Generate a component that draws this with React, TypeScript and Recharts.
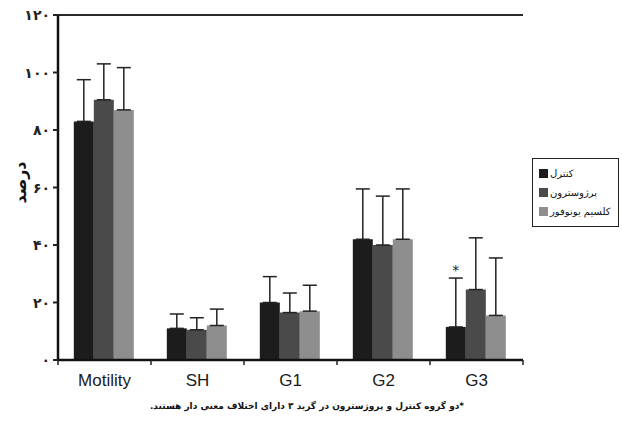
import { BarChart, Bar, XAxis, YAxis, CartesianGrid, ErrorBar, LabelList } from 'recharts';

const categories = ['Motility', 'SH', 'G1', 'G2', 'G3'];
const controlValues = [83, 11, 20, 42, 11.5];
const progesteroneValues = [90.5, 10.5, 16.5, 40, 24.5];
const calciumValues = [87, 12, 17, 42, 15.5];
const controlErr = [14.5, 5, 9, 17.5, 17];
const progesteroneErr = [12.5, 4.2, 6.8, 17, 18];
const calciumErr = [14.7, 5.7, 9, 17.5, 20];
const yTicks = [0, 20, 40, 60, 80, 100, 120];
const yTickLabels = ['۰', '۲۰', '۴۰', '۶۰', '۸۰', '۱۰۰', '۱۲۰'];
const seriesNames = ['کنترل', 'پرژوسترون', 'کلسیم یونوفور'];
const seriesColors = ['#1c1c1c', '#4a4a4a', '#8e8e8e'];
const significantIndex = 4;
const footnote = '*دو گروه کنترل و پروژسترون در گرید ۳ دارای اختلاف معنی دار هستند.';

const data = categories.map((name, i) => ({
  name,
  control: controlValues[i],
  progesterone: progesteroneValues[i],
  calcium: calciumValues[i],
  controlErr: [0, controlErr[i]],
  progesteroneErr: [0, progesteroneErr[i]],
  calciumErr: [0, calciumErr[i]],
}));

const PLOT_WIDTH = 465;
const step = PLOT_WIDTH / categories.length;

const XTick = (props: any) => {
  const { x, y, payload } = props;
  return (
    <g>
      <line x1={x + step / 2} x2={x + step / 2} y1={y - 8} y2={y - 3} stroke="#222" strokeWidth={1.5} />
      {payload.index === 0 && (
        <line x1={x - step / 2} x2={x - step / 2} y1={y - 8} y2={y - 3} stroke="#222" strokeWidth={1.5} />
      )}
      <text x={x} y={y + 18} textAnchor="middle" fontFamily="Liberation Sans, Arial" fontSize={17} fill="#1a1a1a">
        {payload.value}
      </text>
    </g>
  );
};

const YTick = (props: any) => {
  const { x, y, payload } = props;
  const idx = yTicks.indexOf(payload.value);
  return (
    <text x={x - 1} y={y + 5} textAnchor="end" fontFamily="DejaVu Sans" fontWeight="bold" fontSize={14} fill="#222">
      {yTickLabels[idx]}
    </text>
  );
};

const Star = (props: any) => {
  const { x, y, width, height, index, value } = props;
  if (index !== significantIndex || !value) return null;
  const errTop = y - (controlErr[index] * height) / value;
  return (
    <text x={x + width / 2} y={errTop - 3} textAnchor="middle" fontFamily="DejaVu Sans" fontSize={14} fill="#222">
      *
    </text>
  );
};

export default function App() {
  return (
    <div style={{ position: 'absolute', left: 0, top: 0, width: 622, height: 425, background: '#fff' }}>
      <BarChart
        width={622}
        height={425}
        data={data}
        margin={{ top: 15, right: 99, left: 18, bottom: 35 }}
        barGap={0}
        barCategoryGap="17%"
      >
        <CartesianGrid vertical={false} stroke="#2a2a2a" strokeWidth={2} />
        <XAxis
          dataKey="name"
          height={30}
          axisLine={{ stroke: '#111', strokeWidth: 2.5 }}
          tickLine={false}
          tick={<XTick />}
          interval={0}
        />
        <YAxis
          yAxisId="left"
          domain={[0, 120]}
          ticks={yTicks}
          width={40}
          axisLine={{ stroke: '#111', strokeWidth: 2.5 }}
          tickLine={{ stroke: '#222', strokeWidth: 2 }}
          tickSize={5}
          tick={<YTick />}
          label={{
            value: 'درصد',
            angle: -90,
            position: 'insideLeft',
            offset: 2,
            dy: -5,
            style: { fontFamily: 'DejaVu Sans', fontWeight: 'bold', fontSize: 16, fill: '#111', textAnchor: 'middle' },
          }}
        />
        <YAxis
          yAxisId="right"
          orientation="right"
          domain={[0, 120]}
          width={0}
          tick={false}
          tickLine={false}
          axisLine={{ stroke: '#111', strokeWidth: 2 }}
        />
        <Bar yAxisId="left" dataKey="control" name={seriesNames[0]} fill={seriesColors[0]} isAnimationActive={false}>
          <ErrorBar dataKey="controlErr" direction="y" width={7} stroke="#222" strokeWidth={1.5} />
          <LabelList dataKey="control" content={<Star />} />
        </Bar>
        <Bar yAxisId="left" dataKey="progesterone" name={seriesNames[1]} fill={seriesColors[1]} isAnimationActive={false}>
          <ErrorBar dataKey="progesteroneErr" direction="y" width={7} stroke="#222" strokeWidth={1.5} />
        </Bar>
        <Bar yAxisId="left" dataKey="calcium" name={seriesNames[2]} fill={seriesColors[2]} isAnimationActive={false}>
          <ErrorBar dataKey="calciumErr" direction="y" width={7} stroke="#222" strokeWidth={1.5} />
        </Bar>
      </BarChart>
      <div
        style={{
          position: 'absolute',
          left: 532,
          top: 158,
          width: 87,
          boxSizing: 'border-box',
          border: '1.5px solid #222',
          padding: '5px 0',
          background: '#fff',
          fontFamily: 'DejaVu Sans',
          fontSize: 10,
          color: '#111',
        }}
      >
        {seriesNames.map((name, i) => (
          <div key={name} style={{ display: 'flex', alignItems: 'center', height: 19, paddingLeft: 6 }}>
            <span style={{ width: 9, height: 9, background: seriesColors[i], display: 'inline-block', marginRight: 2, flexShrink: 0 }} />
            <span style={{ whiteSpace: 'nowrap', direction: 'rtl' }}>{name}</span>
          </div>
        ))}
      </div>
      <div
        style={{
          position: 'absolute',
          top: 401,
          left: 0,
          width: 614,
          textAlign: 'center',
          direction: 'rtl',
          fontFamily: 'DejaVu Sans',
          fontSize: 9,
          fontWeight: 'bold',
          color: '#111',
        }}
      >
        {footnote}
      </div>
    </div>
  );
}
